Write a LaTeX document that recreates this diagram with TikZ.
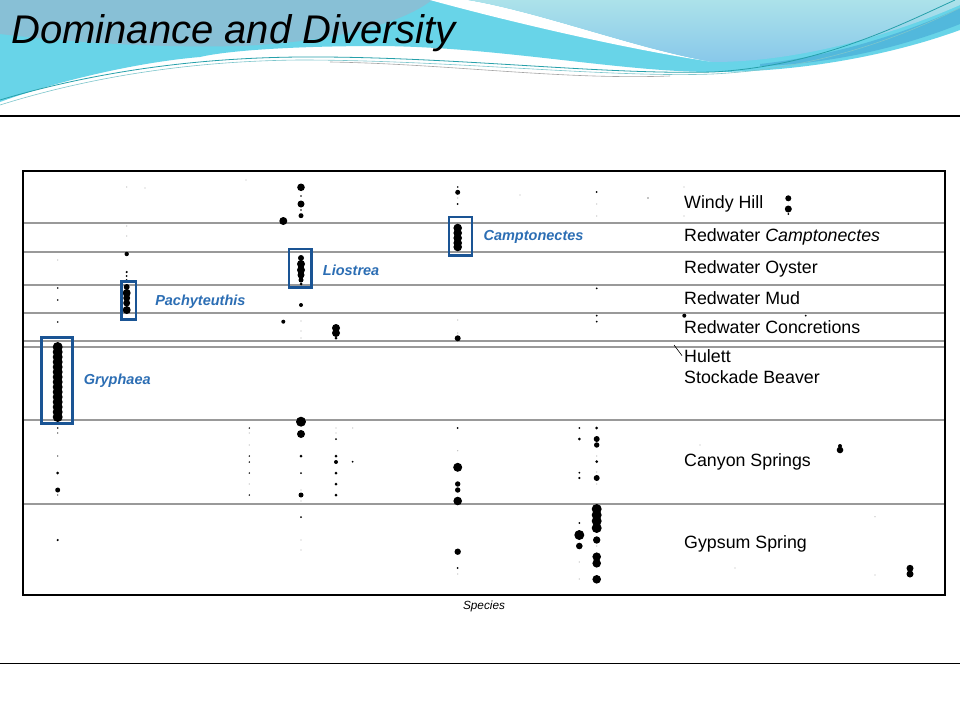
\documentclass[tikz,border=0pt]{standalone}
\usepackage{fontspec}
\setmainfont{Liberation Sans}
\usepackage{xcolor}
\usetikzlibrary{positioning}

\definecolor{bandcyan}{RGB}{104,212,232}
\definecolor{steel}{RGB}{136,192,214}
\definecolor{skytop}{RGB}{172,226,234}
\definecolor{skybot}{RGB}{136,200,234}
\definecolor{deepband}{RGB}{82,184,220}
\definecolor{swoosh}{RGB}{38,160,170}
\definecolor{boxblue}{RGB}{26,84,148}
\definecolor{labblue}{RGB}{44,110,180}

\begin{document}
\begin{tikzpicture}[
    x=1pt, y=-1pt, % one unit is one pixel of the slide, y runs down
    every node/.style={font={\fontsize{17.8}{20}\selectfont}, inner sep=0pt},
    zone/.style={anchor=base west}, % names of the beds on the right
    spbox/.style={draw=boxblue, line width=2.7pt, minimum width=#1}, % box round a dominant species
    splabel/.style={text=labblue, font={\fontsize{14.5}{16}\selectfont\bfseries\itshape}},
    rowline/.style={draw=black!40, line width=1.2pt},
    dot/.style={fill=black},
    faint/.style={fill=black!30}
  ]

  \useasboundingbox (0,0) rectangle (960,720);
  \fill[white] (0,0) rectangle (960,720);

  % header swoosh
  \fill[bandcyan] (0,0) -- (960,0) -- (960,30) .. controls (900,52) and (810,72) .. (713,72)
    .. controls (620,72) and (500,47) .. (380,46) .. controls (300,46) and (230,50) .. (200,57)
    .. controls (140,62) and (60,80) .. (0,102) -- cycle;
  \fill[steel] (0,0) -- (432,0) .. controls (400,25) and (330,42) .. (240,46)
    .. controls (150,48) and (70,42) .. (0,34) -- cycle;
  \fill[white] (430,0) -- (468,0) .. controls (540,12) and (640,50) .. (713,62)
    .. controls (630,50) and (510,22) .. (430,0) -- cycle;
  \shade[top color=skytop, bottom color=skybot] (468,0) -- (960,0) -- (960,5)
    .. controls (880,40) and (790,62) .. (713,62) .. controls (640,50) and (540,12) .. (468,0) -- cycle;
  \fill[deepband] (760,64) .. controls (850,54) and (920,26) .. (960,8) -- (960,24)
    .. controls (900,48) and (830,64) .. (760,66) -- cycle;
  \draw[swoosh, line width=0.8pt] (0,100) .. controls (80,76) and (180,58) .. (300,57)
    .. controls (450,56) and (600,75) .. (713,72) .. controls (820,66) and (900,25) .. (955,0);
  \draw[swoosh!60, line width=0.6pt] (0,105) .. controls (80,80) and (180,61) .. (300,60)
    .. controls (450,60) and (610,78) .. (713,74) .. controls (830,68) and (910,32) .. (960,8);
  \draw[black!35, line width=0.6pt] (330,62) .. controls (450,64) and (560,80) .. (670,76);

  \node[anchor=base west, font={\fontsize{40}{44}\selectfont\itshape}] (title) at (11,43) {Dominance and Diversity};

  \draw[line width=1.3pt] (0,116) -- (960,116);
  \draw[line width=0.9pt] (0,663) -- (960,663);

  % the chart
  \foreach \y in {223,252,285,313,341,347,420,504}
    \draw[rowline] (23,\y) -- (945,\y);
  \draw[line width=1.4pt] (23,171) rectangle (945,595);

  % dominant species, stacked
  \foreach \y in {347,352,...,417}
    \fill[dot] (57.7,\y) circle[radius=5pt];
  \foreach \y/\r in {287/3,293/4,298/3.5,303/3.5,310/4}
    \fill[dot] (126.7,\y) circle[radius=\r pt];
  \foreach \y/\r in {258/3,264/4,270/4,275/3.5,280/2.5,284/1.5}
    \fill[dot] (301,\y) circle[radius=\r pt];
  \foreach \y in {228,233,238,243,247}
    \fill[dot] (457.7,\y) circle[radius=4.3pt];
  \foreach \y in {509,515,521,528}
    \fill[dot] (596.7,\y) circle[radius=5pt];

  % scattered occurrences
  \foreach \x/\y/\r in {
      57.7/288/0.9, 57.7/300/0.9, 57.7/322/0.9, 57.7/428/0.9, 57.7/433/0.6, 57.7/456/0.6,
      57.7/473/1.5, 57.7/490/2.5, 57.7/495/0.6, 57.7/540/1.2,
      126.7/254/2.2, 126.7/272/1.2, 126.7/276/1, 126.7/280/1,
      301/187.3/3.8, 301/196/0.8, 301/204/3.5, 301/210/0.8, 301/215.7/2.5, 283.3/221/4,
      301/305/2, 283.3/321.7/2, 301/421.7/5, 301/434/4, 301/456/1.5, 301/473/1,
      301/495/2.5, 301/517/1,
      336/328/4, 336/333/4, 336/338/1.5, 336/439/1, 336/456/1.5, 336/462/2, 336/473/1.5,
      336/484/1.5, 336/495/1.5, 352.7/461.7/1,
      249.3/428/0.8, 249.3/456/0.8, 249.3/462/0.8, 249.3/473/0.8, 249.3/495/0.8,
      457.7/187/0.8, 457.7/192.3/2.5, 457.7/204/1, 457.7/338.3/3, 457.7/428/1,
      457.7/467.3/4.5, 457.7/484/2.7, 457.7/490/2.7, 457.7/501/4.3, 457.7/551.7/3.2,
      457.7/568/1,
      579.3/428/1, 579.3/439/1.5, 579.3/472.7/1, 579.3/478/1.2, 579.3/523/1,
      579.3/535/5, 579.3/546/3.3,
      596.7/192/1, 596.7/288.3/1, 596.7/315.7/1, 596.7/321.7/1, 596.7/428/1.5,
      596.7/439/3, 596.7/445/2.7, 596.7/461.7/1.5, 596.7/478/3, 596.7/540/3.7,
      596.7/556.7/4.3, 596.7/563.3/4.3, 596.7/579.3/4.3,
      648/198/0.7, 684.3/315.7/2, 788.3/198.3/3, 788.3/209/3.5, 788.3/214/1,
      805.7/315.7/1, 840/446/2, 840/450/3.3, 910/568.3/3.5, 910/574/3.5}
    \fill[dot] (\x,\y) circle[radius=\r pt];
  \foreach \x/\y in {
      57.7/260, 126.7/187, 126.7/226, 126.7/236, 301/321, 301/331, 301/338, 301/490,
      301/501, 301/540, 301/550, 336/428, 336/433, 249.3/433, 249.3/445, 249.3/484,
      352.7/428, 457.7/198, 457.7/333, 457.7/450.7, 457.7/574, 457.7/320, 579.3/562,
      579.3/579, 596.7/204, 596.7/216, 596.7/456, 596.7/472, 596.7/484, 596.7/546,
      684/187, 684/216, 875/516.7, 875/575, 145/188, 246/180, 520/195, 700/445, 735/568}
    \fill[faint] (\x,\y) circle[radius=0.6pt];

  % boxes and names of the dominant species
  \node[spbox=31pt, minimum height=86pt] (b1) at (56.7,380.2) {};
  \node[spbox=14.6pt, minimum height=38pt] (b2) at (128.7,300.3) {};
  \node[spbox=22.3pt, minimum height=38.6pt] (b3) at (300.2,268.3) {};
  \node[spbox=23pt, minimum height=38.3pt] (b4) at (460.5,236.2) {};
  \node[splabel, right=10pt of b1, yshift=-1pt] (s1) {Gryphaea};
  \node[splabel, right=17.7pt of b2, yshift=-1pt] (s2) {Pachyteuthis};
  \node[splabel, right=10pt of b3, yshift=-2pt] (s3) {Liostrea};
  \node[splabel, right=10pt of b4, yshift=-1pt] (s4) {Camptonectes};

  % beds
  \node[zone] (z1) at (684,208) {Windy Hill};
  \node[zone] (z2) at (684,241) {Redwater \textit{Camptonectes}};
  \node[zone] (z3) at (684,273) {Redwater Oyster};
  \node[zone] (z4) at (684,304) {Redwater Mud};
  \node[zone] (z5) at (684,333) {Redwater Concretions};
  \node[zone] (z6) at (684,362) {Hulett};
  \node[zone] (z7) at (684,383) {Stockade Beaver};
  \node[zone] (z8) at (684,466) {Canyon Springs};
  \node[zone] (z9) at (684,548) {Gypsum Spring};
  \coordinate (hk) at (674,345);
  \draw[line width=0.6pt] (hk) -- ([xshift=-2pt]z6.west);

  \node[font={\fontsize{11.8}{13}\selectfont\itshape}] (sp) at (484,606) {Species};

\end{tikzpicture}
\end{document}
